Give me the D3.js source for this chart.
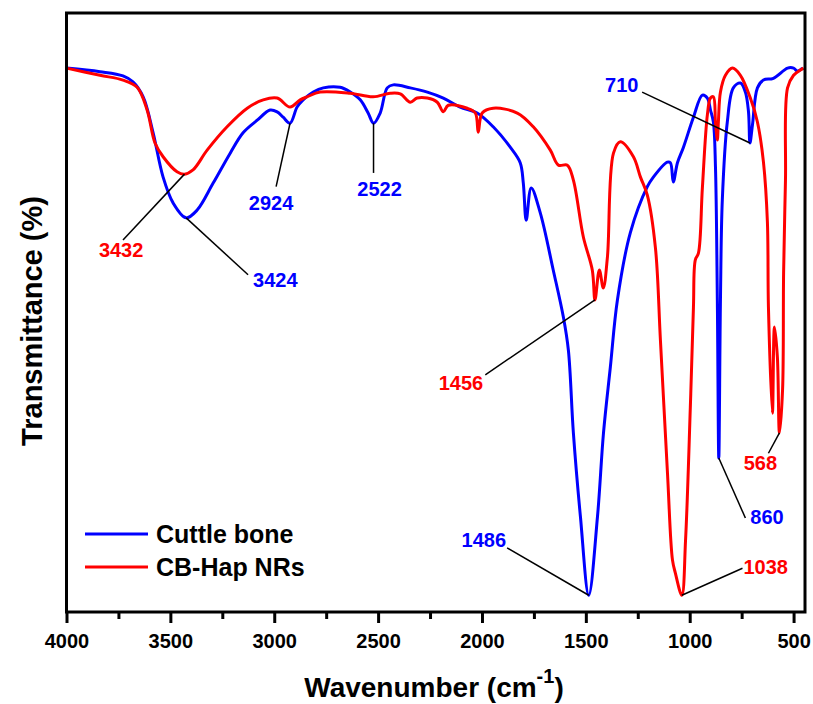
<!DOCTYPE html>
<html>
<head>
<meta charset="utf-8" />
<title>FTIR spectra</title>
<script src="https://d3js.org/d3.v7.min.js"></script>
<style>
  body { margin: 0; background: #fff; }
  svg { display: block; font-family: Arial, "Liberation Sans", sans-serif; font-weight: bold; }
</style>
</head>
<body>
<svg id="chart" width="813" height="704"></svg>
<script>
// Cuttle bone spectrum (wavenumber, transmittance a.u.)
const cbWave = [4000, 3839, 3728, 3680, 3631, 3583, 3535, 3487, 3424, 3371, 3294, 3212, 3150, 3082, 3020, 2986, 2957, 2924,
  2890, 2861, 2812, 2764, 2683, 2634, 2586, 2548, 2522, 2490, 2456, 2427, 2345, 2263, 2186, 2105, 2023, 1946, 1864, 1816,
  1801, 1787, 1763, 1719, 1657, 1608, 1584, 1560, 1526, 1486, 1444, 1415, 1382, 1348, 1286, 1204, 1175, 1108, 1093, 1079,
  1059, 1030, 982, 939, 915, 900, 886, 876, 867, 860, 852, 843, 819, 790, 756, 732, 717, 710, 698, 674, 645, 597, 529, 500, 481, 457];
const cbTrans = [90.8, 90.2, 89.5, 88.5, 86.0, 80.0, 72.6, 68.3, 65.8, 67.1, 71.6, 76.6, 80.0, 82.1, 83.8, 83.5, 82.6, 81.6,
  84.3, 85.5, 86.8, 87.5, 87.6, 86.8, 85.5, 83.3, 81.6, 83.3, 87.5, 88.0, 87.5, 86.8, 85.8, 84.3, 83.3, 81.0, 77.6, 75.0,
  71.6, 65.4, 70.8, 66.6, 57.1, 49.2, 43.7, 29.9, 15.9, 2.8, 15.9, 29.9, 40.9, 52.1, 63.3, 71.0, 72.6, 75.1, 75.0, 71.8,
  75.0, 77.6, 82.6, 86.3, 85.8, 83.8, 81.8, 74.3, 52.1, 25.7, 52.1, 68.8, 81.8, 87.5, 88.3, 86.8, 83.5, 78.3, 81.3, 87.5, 88.8, 89.1, 90.8, 90.8, 90.3, 90.8];

// CB-Hap NRs spectrum
const hapWave = [4000, 3839, 3728, 3660, 3612, 3574, 3535, 3468, 3432, 3391, 3323, 3227, 3130, 3053, 2986, 2924, 2875, 2842,
  2779, 2634, 2524, 2442, 2393, 2345, 2312, 2263, 2215, 2186, 2162, 2071, 2032, 2018, 1999, 1946, 1830, 1753, 1671, 1632,
  1589, 1560, 1512, 1469, 1456, 1435, 1416, 1396, 1367, 1334, 1271, 1237, 1204, 1165, 1141, 1107, 1083, 1069, 1038, 1020,
  997, 982, 973, 958, 939, 915, 900, 886, 876, 867, 862, 852, 828, 794, 756, 708, 674, 645, 626, 621, 602, 592, 578, 568,
  553, 548, 539, 529, 500, 467, 452];
const hapTrans = [90.8, 89.6, 88.8, 87.6, 83.8, 78.3, 76.0, 73.5, 73.1, 73.8, 77.1, 81.0, 84.1, 85.5, 85.8, 84.3, 85.5, 86.0,
  86.8, 86.6, 86.0, 86.6, 86.5, 85.1, 85.8, 85.8, 85.1, 83.5, 84.6, 84.1, 83.3, 80.1, 83.3, 84.1, 83.3, 81.0, 77.1, 74.6,
  74.6, 72.1, 62.6, 57.1, 52.1, 57.1, 54.1, 59.3, 76.6, 78.5, 76.0, 72.6, 69.6, 60.8, 45.4, 23.2, 8.7, 6.5, 2.8, 12.0,
  34.2, 50.9, 58.8, 59.9, 70.8, 83.0, 85.8, 86.0, 81.8, 78.8, 81.8, 86.8, 89.6, 90.8, 89.6, 85.8, 81.8, 75.1, 65.1, 50.9,
  33.2, 47.6, 42.6, 29.9, 37.1, 56.6, 72.1, 87.5, 89.6, 90.5, 90.8];

const seriesNames = ["Cuttle bone", "CB-Hap NRs"];
const seriesColors = ["#0000ff", "#ff0000"];
const majorTicks = [4000, 3500, 3000, 2500, 2000, 1500, 1000, 500];
const minorTicks = [3750, 3250, 2750, 2250, 1750, 1250, 750];

// peak labels: peak point, leader end, text position (data units)
const peakLabels = [
  { text: "3432", s: 1, wn: 3432, t: 73.1, ew: 3728, et: 62.1, tw: 3737, tt: 59.3, anchor: "middle" },
  { text: "3424", s: 0, wn: 3424, t: 65.8, ew: 3126, et: 56.3, tw: 3102, tt: 54.3, anchor: "start" },
  { text: "2924", s: 0, wn: 2924, t: 81.6, ew: 2991, et: 71.0, tw: 3015, tt: 67.1, anchor: "middle" },
  { text: "2522", s: 0, wn: 2522, t: 81.6, ew: 2522, et: 73.3, tw: 2493, tt: 69.4, anchor: "middle" },
  { text: "710", s: 0, wn: 710, t: 78.3, ew: 1229, et: 86.8, tw: 1247, tt: 86.8, anchor: "end" },
  { text: "1456", s: 1, wn: 1456, t: 52.1, ew: 1984, et: 39.6, tw: 1994, tt: 37.1, anchor: "end" },
  { text: "1486", s: 0, wn: 1486, t: 2.8, ew: 1879, et: 10.7, tw: 1884, tt: 10.9, anchor: "end" },
  { text: "1038", s: 1, wn: 1038, t: 2.8, ew: 746, et: 7.3, tw: 741, tt: 6.3, anchor: "start" },
  { text: "860", s: 0, wn: 860, t: 25.7, ew: 732, et: 15.7, tw: 708, tt: 14.7, anchor: "start" },
  { text: "568", s: 1, wn: 568, t: 29.9, ew: 621, et: 26.5, tw: 660, tt: 23.7, anchor: "middle" }
];

const plotLeft = 66.5, plotRight = 805, plotTop = 13, plotBottom = 612;
const svg = d3.select("#chart");

const x = d3.scaleLinear().domain([4000, 445]).range([plotLeft, plotRight]);
const y = d3.scaleLinear().domain([0, 100]).range([plotBottom, plotTop]);

const line = d3.line()
  .x(d => x(d[0]))
  .y(d => y(d[1]))
  .curve(d3.curveCatmullRom.alpha(0.5));

const series = [
  d3.zip(cbWave, cbTrans),
  d3.zip(hapWave, hapTrans)
];

[0, 1].forEach(i => {
  svg.append("path")
    .attr("d", line(series[i]))
    .attr("fill", "none")
    .attr("stroke", seriesColors[i])
    .attr("stroke-width", 3)
    .attr("stroke-linejoin", "round");
});

// leader lines and labels
svg.selectAll(".leader")
  .data(peakLabels)
  .enter()
  .append("line")
  .attr("class", "leader")
  .attr("x1", d => x(d.wn)).attr("y1", d => y(d.t))
  .attr("x2", d => x(d.ew)).attr("y2", d => y(d.et))
  .attr("stroke", "#000")
  .attr("stroke-width", 1.5);

svg.selectAll(".plabel")
  .data(peakLabels)
  .enter()
  .append("text")
  .attr("class", "plabel")
  .attr("x", d => x(d.tw))
  .attr("y", d => y(d.tt))
  .attr("text-anchor", d => d.anchor)
  .attr("fill", d => seriesColors[d.s])
  .style("font-size", "20px")
  .text(d => d.text);

// frame
svg.append("rect")
  .attr("x", plotLeft).attr("y", plotTop)
  .attr("width", plotRight - plotLeft).attr("height", plotBottom - plotTop)
  .attr("fill", "none")
  .attr("stroke", "#000")
  .attr("stroke-width", 3);

// axes
const xAxis = svg.append("g")
  .attr("transform", `translate(0,${plotBottom})`)
  .call(d3.axisBottom(x).tickValues(majorTicks).tickFormat(d3.format("d"))
    .tickSize(11).tickSizeOuter(0).tickPadding(11));
xAxis.select(".domain").remove();
xAxis.selectAll("line").attr("stroke-width", 3);
xAxis.selectAll("text")
  .style("font-size", "20px")
  .style("font-family", "Arial, 'Liberation Sans', sans-serif")
  .style("font-weight", "bold");

const xMinor = svg.append("g")
  .attr("transform", `translate(0,${plotBottom})`)
  .call(d3.axisBottom(x).tickValues(minorTicks).tickSize(7).tickSizeOuter(0).tickFormat(""));
xMinor.select(".domain").remove();
xMinor.selectAll("line").attr("stroke-width", 3);

// axis titles
const xTitle = svg.append("text")
  .attr("x", 434)
  .attr("y", 697)
  .attr("text-anchor", "middle")
  .style("font-size", "28px");
xTitle.append("tspan").text("Wavenumber (cm");
xTitle.append("tspan").attr("dy", -14).style("font-size", "20px").text("-1");
xTitle.append("tspan").attr("dy", 14).text(")");

svg.append("text")
  .attr("transform", "translate(42,321) rotate(-90)")
  .attr("text-anchor", "middle")
  .style("font-size", "29px")
  .text("Transmittance (%)");

// legend
const legend = svg.selectAll(".legend")
  .data(seriesNames)
  .enter()
  .append("g")
  .attr("class", "legend")
  .attr("transform", (d, i) => `translate(85,${534 + i * 33})`);

legend.append("line")
  .attr("x1", 0).attr("x2", 63)
  .attr("stroke", (d, i) => seriesColors[i])
  .attr("stroke-width", 3);

legend.append("text")
  .attr("x", 71)
  .attr("y", 9)
  .style("font-size", "25px")
  .text(d => d);
</script>
</body>
</html>
